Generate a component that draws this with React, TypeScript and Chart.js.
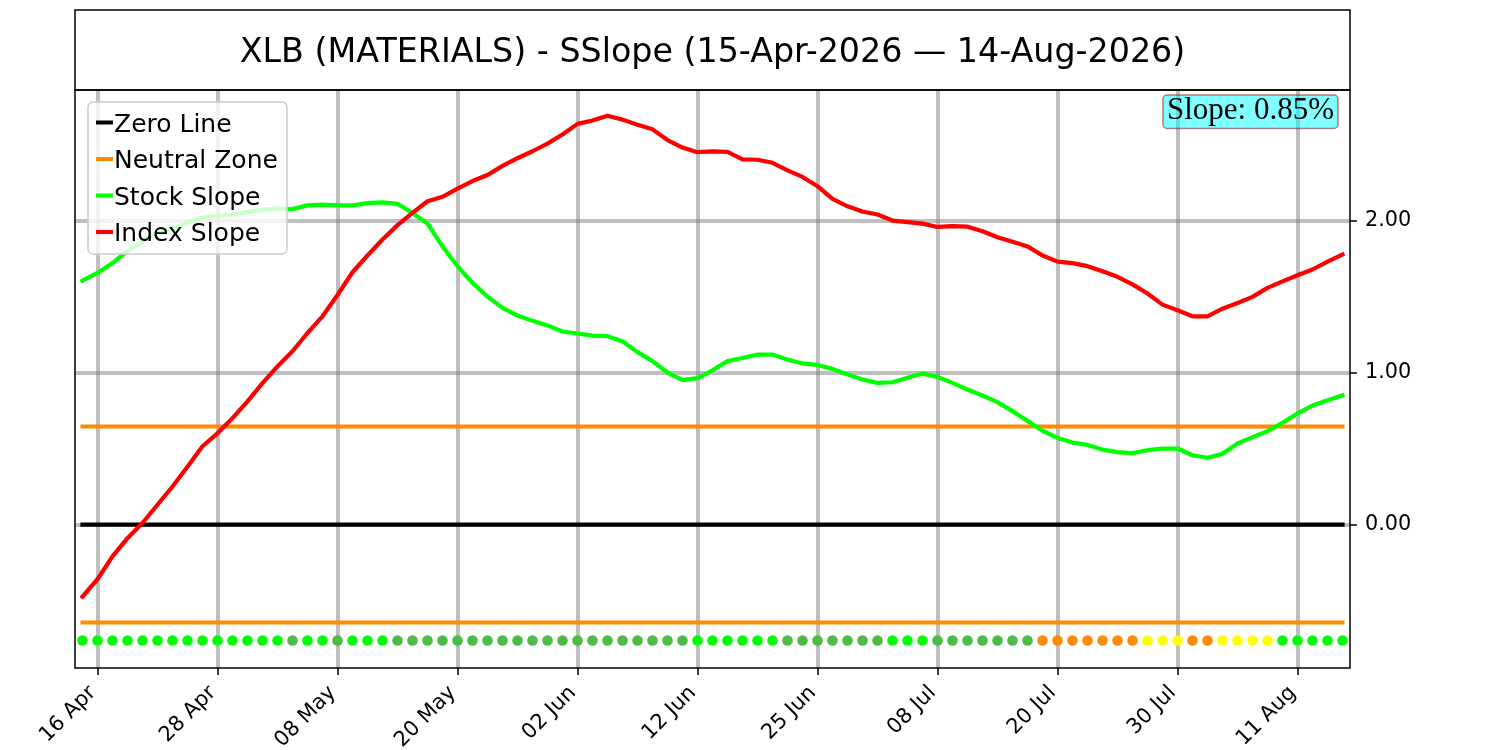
import React, { useEffect, useRef } from "react";
import { Chart, registerables } from "chart.js";

Chart.register(...registerables);

// ---------------- data ----------------
const titleText = "XLB (MATERIALS) - SSlope (15-Apr-2026 \u2014 14-Aug-2026)";

const tradingDays = [
  "15 Apr", "16 Apr", "17 Apr", "20 Apr", "21 Apr", "22 Apr", "23 Apr", "24 Apr", "27 Apr", "28 Apr", "29 Apr", "30 Apr",
  "01 May", "04 May", "05 May", "06 May", "07 May", "08 May", "11 May", "12 May", "13 May", "14 May", "15 May", "18 May",
  "19 May", "20 May", "21 May", "22 May", "26 May", "27 May", "28 May", "29 May",
  "01 Jun", "02 Jun", "03 Jun", "04 Jun", "05 Jun", "08 Jun", "09 Jun", "10 Jun", "11 Jun", "12 Jun", "15 Jun", "16 Jun",
  "17 Jun", "18 Jun", "22 Jun", "23 Jun", "24 Jun", "25 Jun", "26 Jun", "29 Jun", "30 Jun",
  "01 Jul", "02 Jul", "06 Jul", "07 Jul", "08 Jul", "09 Jul", "10 Jul", "13 Jul", "14 Jul", "15 Jul", "16 Jul", "17 Jul",
  "20 Jul", "21 Jul", "22 Jul", "23 Jul", "24 Jul", "27 Jul", "28 Jul", "29 Jul", "30 Jul", "31 Jul",
  "03 Aug", "04 Aug", "05 Aug", "06 Aug", "07 Aug", "10 Aug", "11 Aug", "12 Aug", "13 Aug", "14 Aug",
];

const stockSlope = [
  1.605, 1.655, 1.72, 1.8, 1.86, 1.92, 1.95, 1.985, 2.02, 2.03, 2.04, 2.055, 2.07, 2.08, 2.075, 2.1, 2.105, 2.1, 2.1, 2.115,
  2.12, 2.11, 2.05, 1.98, 1.83, 1.7, 1.59, 1.5, 1.425, 1.375, 1.34, 1.31, 1.27, 1.257, 1.243, 1.239, 1.206, 1.134, 1.075, 1.0,
  0.95, 0.963, 1.015, 1.075, 1.096, 1.118, 1.118, 1.085, 1.06, 1.05, 1.024, 0.987, 0.954, 0.932, 0.936, 0.965, 0.993, 0.971,
  0.932, 0.888, 0.849, 0.805, 0.746, 0.682, 0.617, 0.57, 0.54, 0.524, 0.493, 0.476, 0.47, 0.489, 0.5, 0.5, 0.456, 0.439, 0.465,
  0.533, 0.575, 0.614, 0.669, 0.73, 0.783, 0.818, 0.85,
];

const indexSlope = [
  -0.475, -0.36, -0.21, -0.09, 0.01, 0.13, 0.25, 0.38, 0.515, 0.6, 0.7, 0.81, 0.93, 1.04, 1.14, 1.26, 1.37, 1.51, 1.66, 1.77,
  1.875, 1.97, 2.05, 2.127, 2.156, 2.21, 2.26, 2.3, 2.36, 2.41, 2.456, 2.506, 2.566, 2.636, 2.658, 2.69, 2.664, 2.63, 2.6, 2.53,
  2.48, 2.45, 2.455, 2.452, 2.403, 2.4, 2.38, 2.33, 2.287, 2.226, 2.142, 2.094, 2.06, 2.04, 2.0, 1.99, 1.98, 1.958, 1.963, 1.96,
  1.93, 1.89, 1.86, 1.83, 1.77, 1.73, 1.72, 1.7, 1.667, 1.63, 1.58, 1.52, 1.447, 1.41, 1.37, 1.37, 1.42, 1.458, 1.498, 1.557,
  1.6, 1.64, 1.678, 1.73, 1.776,
];

// signal state per day: G strong, g moderate, O orange, Y yellow
const signalState = [
  "G", "G", "G", "G", "G", "G", "G", "G", "G", "G", "G", "G", "G", "G", "g", "G", "G", "g", "G", "G",
  "G", "g", "g", "g", "g", "g", "g", "g", "g", "g", "g", "g", "g", "g", "g", "g", "g", "g", "g", "g",
  "g", "G", "G", "G", "G", "G", "G", "g", "g", "g", "g", "g", "g", "g", "G", "G", "G", "g", "g", "g",
  "g", "g", "g", "g", "O", "O", "O", "O", "O", "O", "O", "Y", "Y", "Y", "O", "O", "Y", "Y", "Y", "Y",
  "G", "G", "G", "G", "G",
];

const yTickValues = [0, 1, 2];
const xTickStart = 1;
const xTickStep = 8;
const neutralZone = 0.645;
const signalRowLevel = -0.763;
const yMin = -0.944;
const yMax = 2.859;

// ---------------- styles ----------------
const FONT = '"DejaVu Sans", sans-serif';
const stateColors: Record<string, string> = {
  G: "#00ff00",
  g: "#4cbb47",
  O: "#ff8c00",
  Y: "#ffff00",
};
const GRID = "rgba(128,128,128,0.5)";

function roundRect(ctx: CanvasRenderingContext2D, x: number, y: number, w: number, h: number, r: number) {
  ctx.beginPath();
  ctx.moveTo(x + r, y);
  ctx.lineTo(x + w - r, y);
  ctx.arcTo(x + w, y, x + w, y + r, r);
  ctx.lineTo(x + w, y + h - r);
  ctx.arcTo(x + w, y + h, x + w - r, y + h, r);
  ctx.lineTo(x + r, y + h);
  ctx.arcTo(x, y + h, x, y + h - r, r);
  ctx.lineTo(x, y + r);
  ctx.arcTo(x, y, x + r, y, r);
  ctx.closePath();
}

const overlayPlugin = {
  id: "overlay",
  afterDatasetsDraw(chart: any) {
    const ctx: CanvasRenderingContext2D = chart.ctx;
    const a = chart.chartArea;
    ctx.save();
    // plot frame
    ctx.strokeStyle = "#000";
    ctx.lineWidth = 1.5;
    ctx.strokeRect(a.left, a.top, a.right - a.left, a.bottom - a.top);

    // legend
    const items = chart.data.datasets.filter((d: any) => !d.hideInLegend);
    const lx = a.left + 13;
    const ly = a.top + 12;
    const lw = 199;
    const lh = 152;
    roundRect(ctx, lx, ly, lw, lh, 5);
    ctx.fillStyle = "rgba(255,255,255,0.8)";
    ctx.fill();
    ctx.strokeStyle = "#cccccc";
    ctx.lineWidth = 1.5;
    ctx.stroke();
    const fs = 25;
    ctx.font = `${fs}px ${FONT}`;
    ctx.textAlign = "left";
    ctx.textBaseline = "alphabetic";
    items.forEach((d: any, k: number) => {
      const y = ly + 20.5 + k * 36.5;
      ctx.strokeStyle = d.borderColor;
      ctx.lineWidth = 4;
      ctx.lineCap = "butt";
      ctx.beginPath();
      ctx.moveTo(lx + 8, y);
      ctx.lineTo(lx + 25, y);
      ctx.stroke();
      ctx.fillStyle = "#000";
      ctx.fillText(d.label, lx + 26, y + 0.365 * fs);
    });

    // slope box
    const last = stockSlope[stockSlope.length - 1];
    const txt = `Slope: ${last.toFixed(2)}%`;
    ctx.font = `31px "Liberation Serif", "Times New Roman", serif`;
    const tw = ctx.measureText(txt).width;
    const bw = tw + 8;
    const bh = 33.5;
    const bx = a.right - 12 - bw;
    const by = a.top + 5;
    roundRect(ctx, bx, by, bw, bh, 4);
    ctx.fillStyle = "rgba(0,255,255,0.5)";
    ctx.fill();
    ctx.strokeStyle = "rgba(139,0,0,0.5)";
    ctx.lineWidth = 1.5;
    ctx.stroke();
    ctx.fillStyle = "#000";
    ctx.textAlign = "left";
    ctx.fillText(txt, bx + 4, by + 23.5);
    ctx.restore();
  },
  afterDraw(chart: any) {
    const ctx: CanvasRenderingContext2D = chart.ctx;
    const a = chart.chartArea;
    ctx.save();
    ctx.strokeStyle = "#000";
    ctx.lineWidth = 1.5;
    ctx.strokeRect(a.left, 10, a.right - a.left, a.top - 10);
    ctx.fillStyle = "#000";
    ctx.font = `33.3px ${FONT}`;
    ctx.textAlign = "center";
    ctx.textBaseline = "alphabetic";
    ctx.fillText(titleText, (a.left + a.right) / 2, 61.5);
    ctx.restore();
  },
};

export default function App() {
  const ref = useRef<HTMLCanvasElement | null>(null);

  useEffect(() => {
    document.body.style.margin = "0";
    const canvas = ref.current;
    if (!canvas) return;
    const n = tradingDays.length;
    const lastIdx = n - 1;
    const xTicks: number[] = [];
    for (let i = xTickStart; i < n; i += xTickStep) xTicks.push(i);

    const lineBase = {
      borderWidth: 4.2,
      pointRadius: 0,
      borderCapStyle: "square",
      borderJoinStyle: "round",
    };

    const chart = new Chart(canvas, {
      type: "line",
      data: {
        datasets: [
          {
            ...lineBase,
            label: "Zero Line",
            data: [{ x: 0, y: 0 }, { x: lastIdx, y: 0 }],
            borderColor: "#000000",
            backgroundColor: "#000000",
            order: 6,
          },
          {
            ...lineBase,
            label: "Neutral Zone",
            data: [{ x: 0, y: neutralZone }, { x: lastIdx, y: neutralZone }],
            borderColor: "#ff8c00",
            backgroundColor: "#ff8c00",
            borderWidth: 4,
            order: 5,
          },
          {
            ...lineBase,
            label: "Neutral Zone Low",
            hideInLegend: true,
            data: [{ x: 0, y: -neutralZone }, { x: lastIdx, y: -neutralZone }],
            borderColor: "#ff8c00",
            backgroundColor: "#ff8c00",
            borderWidth: 4,
            order: 5,
          },
          {
            ...lineBase,
            label: "Stock Slope",
            data: stockSlope.map((v, i) => ({ x: i, y: v })),
            borderColor: "#00ff00",
            backgroundColor: "#00ff00",
            order: 3,
          },
          {
            ...lineBase,
            label: "Index Slope",
            data: indexSlope.map((v, i) => ({ x: i, y: v })),
            borderColor: "#ff0000",
            backgroundColor: "#ff0000",
            order: 2,
          },
          {
            label: "Signal",
            hideInLegend: true,
            data: signalState.map((_, i) => ({ x: i, y: signalRowLevel })),
            showLine: false,
            pointRadius: 5.3,
            pointBorderWidth: 0,
            pointBackgroundColor: signalState.map((s) => stateColors[s]),
            borderColor: "rgba(0,0,0,0)",
            order: 0,
          },
        ] as any,
      },
      options: {
        responsive: false,
        animation: false,
        devicePixelRatio: 1,
        layout: { padding: { left: 75, top: 90, right: 0, bottom: 0 } },
        plugins: {
          legend: { display: false },
          tooltip: { enabled: false },
          title: { display: false },
        },
        scales: {
          x: {
            type: "linear",
            min: -0.5,
            max: n - 0.5,
            afterBuildTicks: (s: any) => {
              s.ticks = xTicks.map((v) => ({ value: v }));
            },
            afterFit: (s: any) => {
              s.height = 82;
            },
            ticks: {
              autoSkip: false,
              minRotation: 45,
              maxRotation: 45,
              color: "#000",
              padding: 1,
              font: { family: FONT, size: 21 },
              callback: (v: any) => (tradingDays[Math.round(Number(v))] ?? "") + " ",
            },
            grid: {
              color: GRID,
              lineWidth: 4,
              drawTicks: true,
              tickColor: "#000",
              tickLength: 7,
              tickWidth: 1.5,
            },
            border: { display: false },
          },
          y: {
            type: "linear",
            position: "right",
            min: yMin,
            max: yMax,
            afterBuildTicks: (s: any) => {
              s.ticks = yTickValues.map((v) => ({ value: v }));
            },
            afterFit: (s: any) => {
              s.width = 150;
            },
            ticks: {
              color: "#000",
              padding: 8,
              font: { family: FONT, size: 20.8 },
              callback: (v: any) => Number(v).toFixed(2),
            },
            grid: {
              color: GRID,
              lineWidth: 4,
              drawTicks: true,
              tickColor: "#000",
              tickLength: 7,
              tickWidth: 1.5,
            },
            border: { display: false },
          },
        },
      } as any,
      plugins: [overlayPlugin],
    });
    return () => chart.destroy();
  }, []);

  return (
    <div style={{ width: 1500, height: 750, background: "#fff" }}>
      <canvas ref={ref} width={1500} height={750} style={{ display: "block" }} />
    </div>
  );
}
